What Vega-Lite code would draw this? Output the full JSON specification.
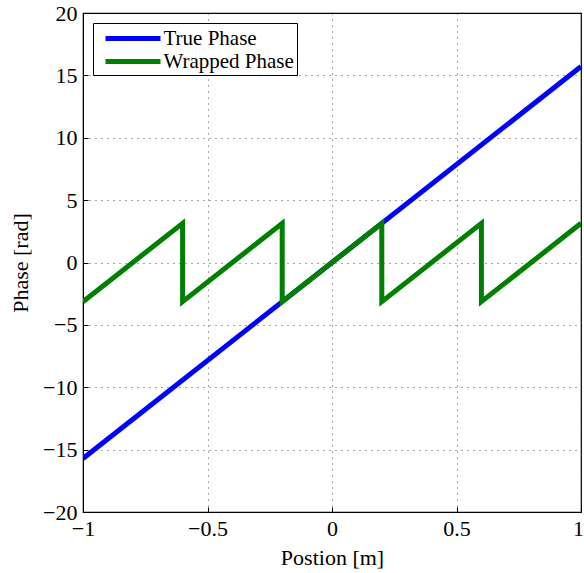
{
  "$schema": "https://vega.github.io/schema/vega-lite/v6.json",
  "autosize": {"type": "none"},
  "width": 498,
  "height": 499,
  "padding": {"left": 83, "top": 13, "right": 3, "bottom": 61},
  "background": "white",
  "config": {
    "font": "Liberation Serif",
    "view": {"stroke": "black", "strokeWidth": 1.2},
    "axis": {
      "labelFont": "Liberation Serif",
      "titleFont": "Liberation Serif",
      "labelFontSize": 22,
      "titleFontSize": 22,
      "titleFontWeight": "normal",
      "labelColor": "black",
      "titleColor": "black",
      "domainColor": "black",
      "tickColor": "black",
      "tickSize": -5,
      "labelFlush": false,
      "grid": true,
      "gridColor": "#000000",
      "gridDash": [1, 5],
      "gridWidth": 1,
      "gridOpacity": 0.7
    }
  },
  "data": {
    "values": [
      {"series": "True Phase", "ord": 0, "x": -1, "y": -15.708},
      {"series": "True Phase", "ord": 1, "x": 1, "y": 15.708},
      {"series": "Wrapped Phase", "ord": 0, "x": -1, "y": -3.1416},
      {"series": "Wrapped Phase", "ord": 1, "x": -0.6, "y": 3.1416},
      {"series": "Wrapped Phase", "ord": 2, "x": -0.6, "y": -3.1416},
      {"series": "Wrapped Phase", "ord": 3, "x": -0.2, "y": 3.1416},
      {"series": "Wrapped Phase", "ord": 4, "x": -0.2, "y": -3.1416},
      {"series": "Wrapped Phase", "ord": 5, "x": 0.2, "y": 3.1416},
      {"series": "Wrapped Phase", "ord": 6, "x": 0.2, "y": -3.1416},
      {"series": "Wrapped Phase", "ord": 7, "x": 0.6, "y": 3.1416},
      {"series": "Wrapped Phase", "ord": 8, "x": 0.6, "y": -3.1416},
      {"series": "Wrapped Phase", "ord": 9, "x": 1, "y": 3.1416}
    ]
  },
  "mark": {"type": "line", "strokeWidth": 5, "strokeCap": "butt", "strokeJoin": "miter", "clip": true},
  "encoding": {
    "x": {
      "field": "x", "type": "quantitative",
      "scale": {"domain": [-1, 1], "nice": false, "zero": false},
      "axis": {
        "values": [-1, -0.5, 0, 0.5, 1],
        "format": "~g",
        "title": "Postion [m]",
        "titlePadding": 8,
        "labelPadding": 11,
        "labelOffset": {"condition": {"test": "datum.value === 1", "value": -3}, "value": 0}
      }
    },
    "y": {
      "field": "y", "type": "quantitative",
      "scale": {"domain": [-20, 20], "nice": false, "zero": false},
      "axis": {"values": [-20, -15, -10, -5, 0, 5, 10, 15, 20], "title": "Phase [rad]", "titlePadding": 10, "labelPadding": 11}
    },
    "order": {"field": "ord"},
    "color": {
      "field": "series", "type": "nominal",
      "scale": {"domain": ["True Phase", "Wrapped Phase"], "range": ["#0000FF", "#008000"]},
      "legend": {
        "title": null,
        "orient": "top-left",
        "offset": 10,
        "strokeColor": "black",
        "fillColor": "white",
        "padding": 3,
        "symbolType": "M-2.75,0H2.75",
        "symbolStrokeWidth": 5,
        "symbolSize": 400,
        "symbolOffset": 24.5,
        "labelFont": "Liberation Serif",
        "labelFontSize": 21,
        "labelColor": "black",
        "rowPadding": 0,
        "labelOffset": 18
      }
    }
  }
}
